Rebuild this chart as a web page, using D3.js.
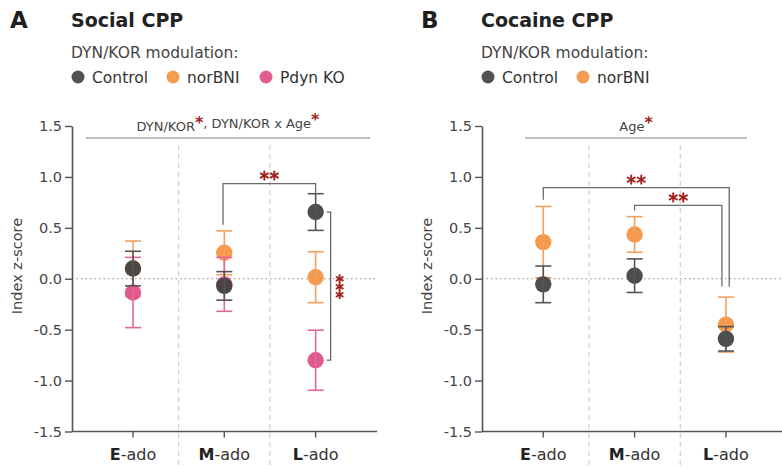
<!DOCTYPE html>
<html>
<head>
<meta charset="utf-8">
<script src="https://cdn.jsdelivr.net/npm/d3@7"></script>
<style>
  html, body { margin: 0; padding: 0; background: #fff; }
  svg { display: block; font-family: "DejaVu Sans", sans-serif; }
</style>
</head>
<body>
<svg id="chart" width="782" height="468"></svg>
<script>
// Age groups on the x axis
const ages = ["E", "M", "L"];
const yTicks = [1.5, 1.0, 0.5, 0.0, -0.5, -1.0, -1.5];

// Social CPP: mean and SEM per age group
const socialControlMean = [0.10, -0.07, 0.655];
const socialControlSem  = [0.17, 0.14, 0.18];
const socialNorbniMean  = [0.10, 0.255, 0.015];
const socialNorbniSem   = [0.27, 0.215, 0.25];
const socialPdynMean    = [-0.135, -0.055, -0.80];
const socialPdynSem     = [0.345, 0.265, 0.295];

// Cocaine CPP: mean and SEM per age group
const cocaineControlMean = [-0.055, 0.03, -0.59];
const cocaineControlSem  = [0.18, 0.165, 0.12];
const cocaineNorbniMean  = [0.36, 0.435, -0.45];
const cocaineNorbniSem   = [0.35, 0.175, 0.27];

const colors = {
  "Control": { dot: "#3f3f3f", bar: "#555555" },
  "norBNI":  { dot: "#f5913f", bar: "#f4a062" },
  "Pdyn KO": { dot: "#e04b85", bar: "#e3689a" }
};
const starRed = "#a3201d";

const svg = d3.select("#chart");

function star(sel, x, y, size) {
  // six-pointed asterisk
  const g = sel.append("g").attr("transform", `translate(${x},${y})`);
  for (let k = 0; k < 3; k++) {
    const a = Math.PI / 2 + k * Math.PI / 3;
    g.append("line")
      .attr("x1", -Math.cos(a) * size).attr("y1", -Math.sin(a) * size)
      .attr("x2", Math.cos(a) * size).attr("y2", Math.sin(a) * size)
      .attr("stroke", starRed).attr("stroke-width", 1.9).attr("stroke-linecap", "round");
  }
}

function drawPanel(p) {
  const g = svg.append("g");
  const y = d3.scaleLinear().domain([-1.5, 1.5]).range([431.5, 126]);
  const x = d3.scaleBand().domain(ages).range(p.bandRange).paddingInner(0).paddingOuter(0);
  const cx = d => x(d) + x.bandwidth() / 2;

  // panel letter + title
  g.append("text").attr("x", p.letterX).attr("y", 28).attr("font-size", 23).attr("font-weight", "bold")
    .attr("fill", "#1e1e1e").text(p.letter);
  g.append("text").attr("x", p.titleX).attr("y", 27).attr("font-size", 19).attr("font-weight", "bold")
    .attr("fill", "#222").text(p.title);
  g.append("text").attr("x", p.titleX).attr("y", 58).attr("font-size", 15.5)
    .attr("fill", "#444").text("DYN/KOR modulation:");

  // legend
  const leg = g.append("g");
  p.legend.forEach((item) => {
    leg.append("circle").attr("cx", item.x).attr("cy", 77).attr("r", 6.5)
      .attr("fill", colors[item.name].dot).attr("opacity", 0.9);
    leg.append("text").attr("x", item.x + 14).attr("y", 82.5).attr("font-size", 15.5)
      .attr("fill", "#333").text(item.name);
  });

  // dashed separators between age groups
  ages.slice(1).forEach(a => {
    g.append("line").attr("x1", x(a)).attr("x2", x(a)).attr("y1", 145).attr("y2", 466)
      .attr("stroke", "#cfcfcf").attr("stroke-width", 1.2).attr("stroke-dasharray", "5,4");
  });

  // zero reference
  g.append("line").attr("x1", p.axisX).attr("x2", p.axisEnd).attr("y1", y(0)).attr("y2", y(0))
    .attr("stroke", "#8a8a8a").attr("stroke-width", 1.1).attr("stroke-dasharray", "1.5,3");

  // y axis
  const yAxis = g.append("g").attr("transform", `translate(${p.axisX},0)`)
    .call(d3.axisLeft(y).tickValues(yTicks).tickSize(7).tickSizeOuter(0).tickFormat(d3.format(".1f")));
  yAxis.select(".domain").attr("stroke", "#555").attr("stroke-width", 1.6);
  yAxis.selectAll(".tick line").attr("stroke", "#555").attr("stroke-width", 1.4);
  yAxis.selectAll(".tick text").attr("font-size", 14.5).attr("fill", "#444")
    .attr("font-family", "DejaVu Sans, sans-serif").attr("x", -10)
    .text(d => d3.format(".1f")(d).replace("−", "-"));

  g.append("text").attr("transform", `translate(${p.yLabelX},266) rotate(-90)`)
    .attr("text-anchor", "middle").attr("font-size", 14.5).attr("fill", "#444").text("Index z-score");

  // x axis
  g.append("line").attr("x1", p.axisX).attr("x2", p.axisEnd).attr("y1", y(-1.5)).attr("y2", y(-1.5))
    .attr("stroke", "#555").attr("stroke-width", 1.6);
  ages.forEach(a => {
    g.append("line").attr("x1", cx(a)).attr("x2", cx(a)).attr("y1", y(-1.5)).attr("y2", y(-1.5) + 6)
      .attr("stroke", "#555").attr("stroke-width", 1.4);
    const t = g.append("text").attr("x", cx(a)).attr("y", 460).attr("text-anchor", "middle")
      .attr("font-size", 16).attr("fill", "#333");
    t.append("tspan").attr("font-weight", "bold").attr("fill", "#222").text(a);
    t.append("tspan").text("-ado");
  });

  // top annotation line with main effects
  g.append("line").attr("x1", p.effectLine[0]).attr("x2", p.effectLine[1]).attr("y1", 138).attr("y2", 138)
    .attr("stroke", "#a8a8a8").attr("stroke-width", 1.6);
  const eff = g.append("text").attr("x", (p.effectLine[0] + p.effectLine[1]) / 2).attr("y", 131)
    .attr("text-anchor", "middle").attr("font-size", 13).attr("fill", "#444");
  p.effects.forEach((e, i) => {
    if (i > 0) eff.append("tspan").text(", ");
    eff.append("tspan").text(e);
    eff.append("tspan").attr("fill", starRed).attr("font-weight", "bold").attr("font-size", 16)
      .attr("dy", -3).text("*");
    eff.append("tspan").attr("dy", 3).text("");
  });

  // groups: mean ± SEM, drawn back to front
  p.series.forEach(s => {
    const sg = g.append("g");
    const rows = ages.map((a, i) => ({ a, m: s.mean[i], e: s.sem[i] }));
    sg.selectAll("circle").data(rows).join("circle")
      .attr("cx", d => cx(d.a)).attr("cy", d => y(d.m)).attr("r", 8.2)
      .attr("fill", colors[s.name].dot).attr("opacity", 0.92);
    const eb = sg.selectAll("g.eb").data(rows).join("g").attr("class", "eb")
      .attr("stroke", colors[s.name].bar).attr("stroke-width", 1.6);
    eb.append("line").attr("x1", d => cx(d.a)).attr("x2", d => cx(d.a))
      .attr("y1", d => y(d.m + d.e)).attr("y2", d => y(d.m - d.e));
    eb.append("line").attr("x1", d => cx(d.a) - 8).attr("x2", d => cx(d.a) + 8)
      .attr("y1", d => y(d.m + d.e)).attr("y2", d => y(d.m + d.e));
    eb.append("line").attr("x1", d => cx(d.a) - 8).attr("x2", d => cx(d.a) + 8)
      .attr("y1", d => y(d.m - d.e)).attr("y2", d => y(d.m - d.e));
  });

  // pairwise comparison brackets
  p.brackets.forEach(b => {
    const x1 = cx(b.from) + (b.dxFrom || 0), x2 = cx(b.to) + (b.dxTo || 0);
    g.append("path")
      .attr("d", `M${x1},${y(b.leftEnd)}V${y(b.top)}H${x2}V${y(b.rightEnd)}`)
      .attr("fill", "none").attr("stroke", "#6a6a6a").attr("stroke-width", 1.3);
    const mx = (x1 + x2) / 2 + (b.labelDx || 0);
    const sy = y(b.top) - 8;
    star(g, mx - 5, sy, 4.2);
    star(g, mx + 5, sy, 4.2);
  });

  // within-age vertical bracket
  if (p.sideBracket) {
    const sb = p.sideBracket;
    const bx = cx(sb.age);
    g.append("path")
      .attr("d", `M${bx + 11},${y(sb.top)}H${bx + 15}V${y(sb.bottom)}H${bx + 11}`)
      .attr("fill", "none").attr("stroke", "#6a6a6a").attr("stroke-width", 1.3);
    [0, 1, 2].forEach(k => star(g, bx + 24, y(sb.starAt) + k * 8, 3.6));
  }
}

drawPanel({
  letter: "A", letterX: 10, title: "Social CPP", titleX: 71,
  legend: [{ name: "Control", x: 78 }, { name: "norBNI", x: 173 }, { name: "Pdyn KO", x: 266 }],
  bandRange: [87.3, 361.3], axisX: 72, axisEnd: 377, yLabelX: 22,
  effectLine: [86, 370], effects: ["DYN/KOR", "DYN/KOR x Age"],
  series: [
    { name: "norBNI", mean: socialNorbniMean, sem: socialNorbniSem },
    { name: "Pdyn KO", mean: socialPdynMean, sem: socialPdynSem },
    { name: "Control", mean: socialControlMean, sem: socialControlSem }
  ],
  brackets: [{ from: "M", to: "L", top: 0.935, leftEnd: 0.53, rightEnd: 0.845, dxFrom: -1.3 }],
  sideBracket: { age: "L", top: 0.655, bottom: -0.80, starAt: 0.0 }
});

drawPanel({
  letter: "B", letterX: 421, title: "Cocaine CPP", titleX: 481,
  legend: [{ name: "Control", x: 488 }, { name: "norBNI", x: 583 }],
  bandRange: [497.6, 771.6], axisX: 482, axisEnd: 782, yLabelX: 432,
  effectLine: [525, 747], effects: ["Age"],
  series: [
    { name: "norBNI", mean: cocaineNorbniMean, sem: cocaineNorbniSem },
    { name: "Control", mean: cocaineControlMean, sem: cocaineControlSem }
  ],
  brackets: [
    { from: "E", to: "L", top: 0.895, leftEnd: 0.775, rightEnd: -0.075, dxTo: 3.3 },
    { from: "M", to: "L", top: 0.72, leftEnd: 0.67, rightEnd: -0.075, dxTo: -4, labelDx: 0 }
  ]
});
</script>
</body>
</html>
